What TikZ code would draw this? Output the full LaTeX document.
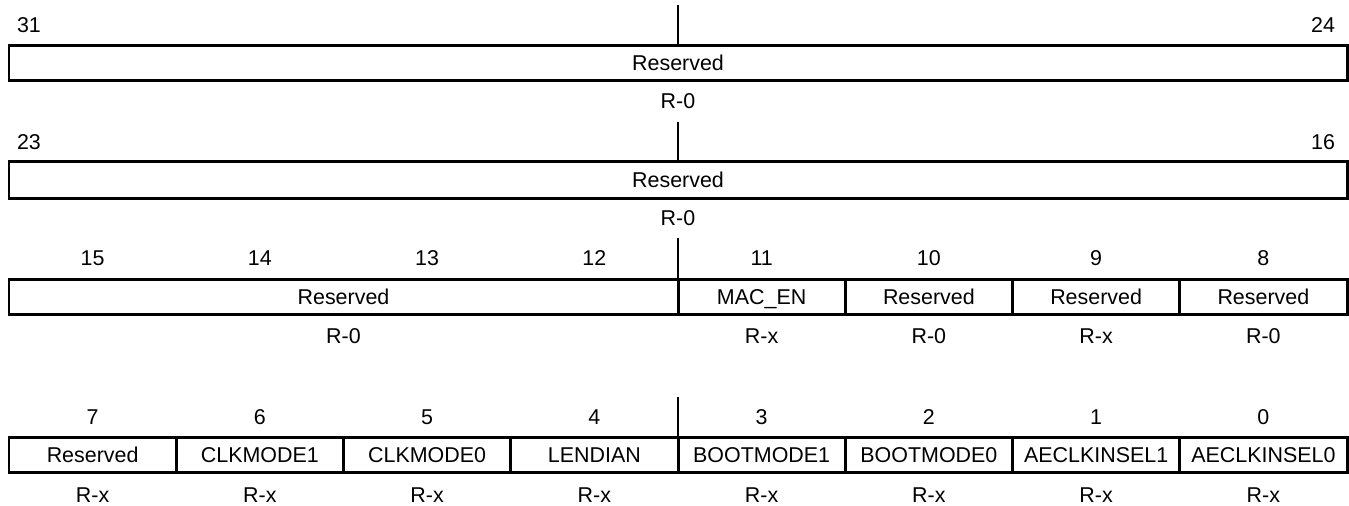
\documentclass[tikz,border=0pt]{standalone}
\usepackage{fontspec}
\setmainfont{Liberation Sans}
\begin{document}
\begin{tikzpicture}[x=0.02cm, y=-0.02cm,
    fld/.style={line width=1.7pt},
    tick/.style={line width=0.6pt},
    lbl/.style={inner sep=0pt, text height=8.7pt, text depth=0pt,
        font=\fontsize{12.2}{14}\selectfont}]
    \def\w{167.25}
    \def\l{9}
    \useasboundingbox (0,0) rectangle (1349,505);

    % bits 31-24
    \draw[tick] (\l+4*\w,5) -- (\l+4*\w,45);
    \node[lbl] (b31) at (29,25) {31};
    \node[lbl] (b24) at (1323,25) {24};
    \draw[fld] (\l,45) rectangle (\l+8*\w,80);
    \node[lbl] (res31) at (\l+4*\w,62.5) {Reserved};
    \node[lbl] (acc31) at (\l+4*\w,101) {R-0};

    % bits 23-16
    \draw[tick] (\l+4*\w,122) -- (\l+4*\w,161);
    \node[lbl] (b23) at (29,142) {23};
    \node[lbl] (b16) at (1323,142) {16};
    \draw[fld] (\l,161) rectangle (\l+8*\w,198);
    \node[lbl] (res23) at (\l+4*\w,179.5) {Reserved};
    \node[lbl] (acc23) at (\l+4*\w,218) {R-0};

    % bits 15-8
    \draw[tick] (\l+4*\w,238) -- (\l+4*\w,279);
    \node[lbl] (b15) at (\l+0.5*\w,258) {15};
    \node[lbl] (b14) at (\l+1.5*\w,258) {14};
    \node[lbl] (b13) at (\l+2.5*\w,258) {13};
    \node[lbl] (b12) at (\l+3.5*\w,258) {12};
    \node[lbl] (b11) at (\l+4.5*\w,258) {11};
    \node[lbl] (b10) at (\l+5.5*\w,258) {10};
    \node[lbl] (b9) at (\l+6.5*\w,258) {9};
    \node[lbl] (b8) at (\l+7.5*\w,258) {8};
    \draw[fld] (\l,279) rectangle (\l+4*\w,314);
    \draw[fld] (\l+4*\w,279) rectangle (\l+5*\w,314);
    \draw[fld] (\l+5*\w,279) rectangle (\l+6*\w,314);
    \draw[fld] (\l+6*\w,279) rectangle (\l+7*\w,314);
    \draw[fld] (\l+7*\w,279) rectangle (\l+8*\w,314);
    \node[lbl] (res15) at (\l+2*\w,296.5) {Reserved};
    \node[lbl] (macen) at (\l+4.5*\w,296.5) {MAC\_EN};
    \node[lbl] (res10) at (\l+5.5*\w,296.5) {Reserved};
    \node[lbl] (res9) at (\l+6.5*\w,296.5) {Reserved};
    \node[lbl] (res8) at (\l+7.5*\w,296.5) {Reserved};
    \node[lbl] (acc15) at (\l+2*\w,336) {R-0};
    \node[lbl] (acc11) at (\l+4.5*\w,336) {R-x};
    \node[lbl] (acc10) at (\l+5.5*\w,336) {R-0};
    \node[lbl] (acc9) at (\l+6.5*\w,336) {R-x};
    \node[lbl] (acc8) at (\l+7.5*\w,336) {R-0};

    % bits 7-0
    \draw[tick] (\l+4*\w,397) -- (\l+4*\w,437);
    \node[lbl] (b7) at (\l+0.5*\w,417) {7};
    \node[lbl] (b6) at (\l+1.5*\w,417) {6};
    \node[lbl] (b5) at (\l+2.5*\w,417) {5};
    \node[lbl] (b4) at (\l+3.5*\w,417) {4};
    \node[lbl] (b3) at (\l+4.5*\w,417) {3};
    \node[lbl] (b2) at (\l+5.5*\w,417) {2};
    \node[lbl] (b1) at (\l+6.5*\w,417) {1};
    \node[lbl] (b0) at (\l+7.5*\w,417) {0};
    \draw[fld] (\l,437) rectangle (\l+\w,472);
    \draw[fld] (\l+\w,437) rectangle (\l+2*\w,472);
    \draw[fld] (\l+2*\w,437) rectangle (\l+3*\w,472);
    \draw[fld] (\l+3*\w,437) rectangle (\l+4*\w,472);
    \draw[fld] (\l+4*\w,437) rectangle (\l+5*\w,472);
    \draw[fld] (\l+5*\w,437) rectangle (\l+6*\w,472);
    \draw[fld] (\l+6*\w,437) rectangle (\l+7*\w,472);
    \draw[fld] (\l+7*\w,437) rectangle (\l+8*\w,472);
    \node[lbl] (res7) at (\l+0.5*\w,454.5) {Reserved};
    \node[lbl] (clkm1) at (\l+1.5*\w,454.5) {CLKMODE1};
    \node[lbl] (clkm0) at (\l+2.5*\w,454.5) {CLKMODE0};
    \node[lbl] (lend) at (\l+3.5*\w,454.5) {LENDIAN};
    \node[lbl] (bootm1) at (\l+4.5*\w,454.5) {BOOTMODE1};
    \node[lbl] (bootm0) at (\l+5.5*\w,454.5) {BOOTMODE0};
    \node[lbl] (aeclk1) at (\l+6.5*\w,454.5) {AECLKINSEL1};
    \node[lbl] (aeclk0) at (\l+7.5*\w,454.5) {AECLKINSEL0};
    \node[lbl] (acc7) at (\l+0.5*\w,495) {R-x};
    \node[lbl] (acc6) at (\l+1.5*\w,495) {R-x};
    \node[lbl] (acc5) at (\l+2.5*\w,495) {R-x};
    \node[lbl] (acc4) at (\l+3.5*\w,495) {R-x};
    \node[lbl] (acc3) at (\l+4.5*\w,495) {R-x};
    \node[lbl] (acc2) at (\l+5.5*\w,495) {R-x};
    \node[lbl] (acc1) at (\l+6.5*\w,495) {R-x};
    \node[lbl] (acc0) at (\l+7.5*\w,495) {R-x};
\end{tikzpicture}
\end{document}
